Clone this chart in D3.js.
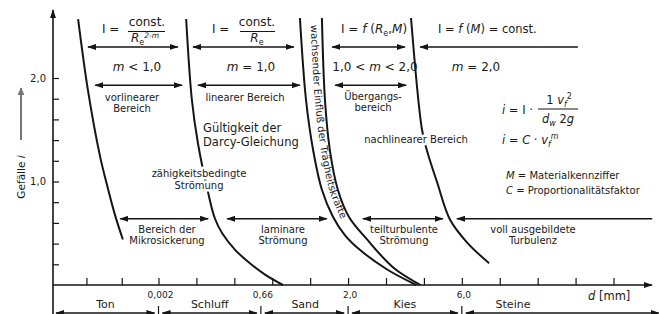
<!DOCTYPE html>
<html>
<head>
<meta charset="utf-8">
<script src="https://d3js.org/d3.v7.min.js"></script>
<style>
  body { margin: 0; background: #fff; }
  svg { display: block; }
  text { font-family: "DejaVu Sans", sans-serif; fill: #1a1a1a; }
  .halo { stroke: #fff; stroke-width: 5px; paint-order: stroke; stroke-linejoin: round; }
</style>
</head>
<body>
<svg id="vis" width="659" height="314"></svg>
<script>
// schematic grain-size axis, one unit per tick mark
const xTicks = [1.1, 2.03, 3, 4, 5, 6, 7, 8, 9, 10, 11, 12, 13, 14, 15];
const yTicks = [0.2, 0.4, 0.6, 0.8, 1.0, 1.2, 1.4, 1.6, 1.8, 2.0];
const yLabels = [1.0, 2.0];

const grainBounds = [3, 5.7, 8, 11];
const grainLabels = ["0,002", "0,66", "2,0", "6,0"];
const soils = ["Ton", "Schluff", "Sand", "Kies", "Steine"];
const soilPos = [1.6, 4.35, 6.87, 9.5, 12.35];

// boundary curves: [x unit, gradient i]
const curveA = [[0.88, 2.57], [1.14, 1.88], [1.46, 1.24], [1.64, 0.97], [1.85, 0.68], [2.06, 0.44]];
const curveB = [[3.73, 2.57], [3.88, 1.79], [4.04, 1.37], [4.31, 0.89], [4.49, 0.64], [4.68, 0.50],
                [5.02, 0.34], [5.41, 0.21], [5.81, 0.10], [6.28, 0]];
const curveC1 = [[6.73, 2.58], [6.89, 1.79], [7.08, 1.30], [7.31, 0.92], [7.60, 0.66], [7.92, 0.48],
                 [8.31, 0.34], [9.03, 0.15], [9.80, 0]];
const curveC2 = [[7.31, 2.58], [7.39, 1.79], [7.52, 1.30], [7.73, 0.92], [8.02, 0.66], [8.50, 0.44],
                 [9.19, 0.17], [9.91, 0]];
const curveD = [[9.66, 2.58], [9.95, 1.50], [10.08, 1.30], [10.35, 0.99], [10.69, 0.63], [11.14, 0.41], [11.72, 0.21]];

// range arrows per row: [from, to, heads]
const row1 = [[1.14, 3.51, 2], [3.91, 6.57, 2], [7.58, 9.50, 2], [9.90, 14.06, 1]];
const row2 = [[1.33, 3.62, 2], [4.04, 6.73, 2], [7.66, 9.53, 2]];
const row3 = [[1.99, 4.31, 2], [4.81, 7.44, 2], [8.39, 10.50, 2], [10.87, 16.02, 1]];
const rowLevels = [2.30, 1.93, 0.64];

const svg = d3.select('#vis');
svg.append('rect').attr('width', 659).attr('height', 314).attr('fill', '#fff');

const x = d3.scaleLinear().domain([3, 15]).range([158.5, 613.5]);
const y = d3.scaleLinear().domain([0, 2]).range([285, 78]);

const ink = '#151515';

// arrow heads
const defs = svg.append('defs');
function marker(id, color, w, h) {
  defs.append('marker')
    .attr('id', id)
    .attr('viewBox', '0 0 10 10')
    .attr('refX', 9).attr('refY', 5)
    .attr('markerUnits', 'userSpaceOnUse')
    .attr('markerWidth', w).attr('markerHeight', h)
    .attr('preserveAspectRatio', 'none')
    .attr('orient', 'auto-start-reverse')
    .append('path').attr('d', 'M0,0L10,5L0,10z').attr('fill', color);
}
marker('ah', ink, 9, 6);
marker('ahg', '#777', 8, 7);

// axes
const x0 = x.invert(53), xEnd = x.invert(652);
svg.append('line')
  .attr('x1', x(x0)).attr('x2', x(xEnd)).attr('y1', y(0)).attr('y2', y(0))
  .attr('stroke', ink).attr('stroke-width', 1.6).attr('marker-end', 'url(#ah)');
svg.append('line')
  .attr('x1', x(x0)).attr('x2', x(x0)).attr('y1', 314).attr('y2', 10)
  .attr('stroke', ink).attr('stroke-width', 1.6).attr('marker-end', 'url(#ah)');

const gx = svg.append('g').attr('transform', `translate(0,${y(0)})`)
  .call(d3.axisTop(x).tickValues(xTicks).tickSize(7).tickFormat(''));
gx.select('.domain').remove();
gx.selectAll('line').attr('stroke', ink).attr('stroke-width', 1.2);

const gy = svg.append('g').attr('transform', `translate(${x(x0)},0)`)
  .call(d3.axisRight(y).tickValues(yTicks).tickSize(6).tickFormat(''));
gy.select('.domain').remove();
gy.selectAll('line').attr('stroke', ink).attr('stroke-width', 1.2);

svg.selectAll('.ylab').data(yLabels).enter().append('text')
  .attr('x', 46).attr('y', d => y(d) + 3.5)
  .attr('text-anchor', 'end').attr('font-size', 10)
  .text(d => d3.format('.1f')(d).replace('.', ','));

// y title with arrow
svg.append('line').attr('x1', 21).attr('x2', 21).attr('y1', 140).attr('y2', 88)
  .attr('stroke', '#777').attr('stroke-width', 2).attr('marker-end', 'url(#ahg)');
svg.append('text').attr('transform', 'translate(25,177) rotate(-90)')
  .attr('text-anchor', 'middle').attr('font-size', 10.5)
  .html('Gefälle <tspan font-style="italic">i</tspan>');

// grain size classes under the axis
svg.selectAll('.gb').data(grainBounds).enter().append('line')
  .attr('x1', d => x(d)).attr('x2', d => x(d)).attr('y1', 306).attr('y2', 314)
  .attr('stroke', ink).attr('stroke-width', 1.2);
svg.selectAll('.gl').data(grainLabels).enter().append('text')
  .attr('x', (d, i) => x(grainBounds[i]) + 2).attr('y', 298)
  .attr('text-anchor', 'middle').attr('font-size', 9).text(d => d);
svg.selectAll('.soil').data(soils).enter().append('text')
  .attr('x', (d, i) => x(soilPos[i])).attr('y', 308)
  .attr('text-anchor', 'middle').attr('font-size', 11).text(d => d);

const edges = [x0].concat(grainBounds, [16.3]);
soils.forEach((s, i) => {
  const a = x(edges[i]) + (i === 0 ? 3 : 4), b = x(edges[i + 1]) - 4;
  svg.append('line').attr('x1', a).attr('x2', b).attr('y1', 313).attr('y2', 313)
    .attr('stroke', ink).attr('stroke-width', 1.4)
    .attr('marker-start', 'url(#ah)').attr('marker-end', 'url(#ah)');
});

svg.append('text').attr('x', 588).attr('y', 300).attr('font-size', 11.5)
  .html('<tspan font-style="italic">d</tspan> [mm]');

// boundary curves
const line = d3.line().x(d => x(d[0])).y(d => y(d[1])).curve(d3.curveCatmullRom.alpha(0.5));
[curveA, curveB, curveC1, curveC2, curveD].forEach(c => {
  svg.append('path').datum(c).attr('d', line)
    .attr('fill', 'none').attr('stroke', ink).attr('stroke-width', 2);
});

// text along the band between C1 and C2, one word at a time
const mid = curveC1.slice(0, 5).map((p, i) => [(p[0] + curveC2[i][0]) / 2 + 0.08, p[1]]);
defs.append('path').attr('id', 'midband').attr('d', line(mid));
let offset = 7;
'wachsender Einfluß der Trägheitskräfte'.split(' ').forEach(w => {
  const t = svg.append('text').attr('font-size', 10).attr('dy', '0.36em');
  t.append('textPath').attr('href', '#midband').attr('startOffset', offset).text(w);
  offset += t.node().getComputedTextLength() + 3.2;
});

// range arrows
[row1, row2, row3].forEach((row, r) => {
  svg.selectAll(null).data(row).enter().append('line')
    .attr('x1', d => x(d[0])).attr('x2', d => x(d[1]))
    .attr('y1', y(rowLevels[r])).attr('y2', y(rowLevels[r]))
    .attr('stroke', ink).attr('stroke-width', 1.4)
    .attr('marker-start', 'url(#ah)')
    .attr('marker-end', d => d[2] === 2 ? 'url(#ah)' : null);
});

// annotations
function label(px, py, html, size, anchor, cls) {
  return svg.append('text').attr('x', px).attr('y', py)
    .attr('font-size', size).attr('text-anchor', anchor || 'start')
    .attr('class', cls || null).html(html);
}
function bar(x1, x2, py) {
  svg.append('line').attr('x1', x1).attr('x2', x2).attr('y1', py).attr('y2', py)
    .attr('stroke', ink).attr('stroke-width', 1.1);
}
const it = s => `<tspan font-style="italic">${s}</tspan>`;
const sub = s => `<tspan font-size="8" dy="2.5">${s}</tspan>`;

// row 1 formulas
label(102, 33, 'I =', 12);
label(147, 26, 'const.', 12, 'middle');
bar(128, 165, 31.5);
label(145, 42, it('R') + sub('e') + '<tspan font-size="7.5" dy="-7" font-style="italic">2-m</tspan>', 12, 'middle');

label(212, 33, 'I =', 12);
label(257, 26, 'const.', 12, 'middle');
bar(240, 275, 31.5);
label(257, 42, it('R') + sub('e'), 12, 'middle');

label(341, 33, 'I =  ' + it('f') + ' (' + it('R') + sub('e') + '<tspan dy="-2.5">,</tspan>' + it('M') + ')', 12);
label(438, 33, 'I =  ' + it('f') + ' (' + it('M') + ') = const.', 11.5);

// row 2: exponent m
label(137, 71, it('m') + ' &lt; 1,0', 12, 'middle');
label(251, 71, it('m') + ' = 1,0', 12, 'middle');
label(375, 71, '1,0 &lt; ' + it('m') + ' &lt; 2,0', 12, 'middle');
label(476, 71, it('m') + ' = 2,0', 12, 'middle');

// row 3: regimes
label(132, 101, 'vorlinearer', 10, 'middle');
label(132, 112, 'Bereich', 10, 'middle');
label(245, 101, 'linearer Bereich', 10, 'middle');
label(373, 100, 'Übergangs-', 10, 'middle');
label(373, 111, 'bereich', 10, 'middle');

label(203, 132, 'Gültigkeit der', 11.5);
label(203, 146, 'Darcy-Gleichung', 11.5);
label(199, 177, 'zähigkeitsbedingte', 10, 'middle', 'halo');
label(199, 189, 'Strömung', 10, 'middle', 'halo');
label(416, 143, 'nachlinearer Bereich', 10, 'middle', 'halo');

// formulas right
label(502, 114, it('i') + ' = I ·', 11.5);
label(559, 104, '1  ' + it('v') + sub(it('f')) + '<tspan font-size="8" dy="-8">2</tspan>', 11.5, 'middle');
bar(538, 578, 109);
label(558, 123, it('d') + sub(it('w')) + '<tspan dy="-2.5"> 2</tspan>' + it('g'), 11.5, 'middle');
label(502, 144, it('i') + ' = ' + it('C') + ' · ' + it('v') + sub(it('f')) + '<tspan font-size="8" dy="-8" font-style="italic">m</tspan>', 11.5);

label(506, 179, it('M') + ' = Materialkennziffer', 10);
label(506, 194, it('C') + '  = Proportionalitätsfaktor', 10);

// row 4: flow regimes
label(167, 233, 'Bereich der', 10, 'middle');
label(167, 244, 'Mikrosickerung', 10, 'middle');
label(283, 233, 'laminare', 10, 'middle');
label(283, 244, 'Strömung', 10, 'middle');
label(404, 233, 'teilturbulente', 10, 'middle');
label(404, 244, 'Strömung', 10, 'middle');
label(533, 233, 'voll ausgebildete', 10, 'middle');
label(533, 244, 'Turbulenz', 10, 'middle');
</script>
</body>
</html>
